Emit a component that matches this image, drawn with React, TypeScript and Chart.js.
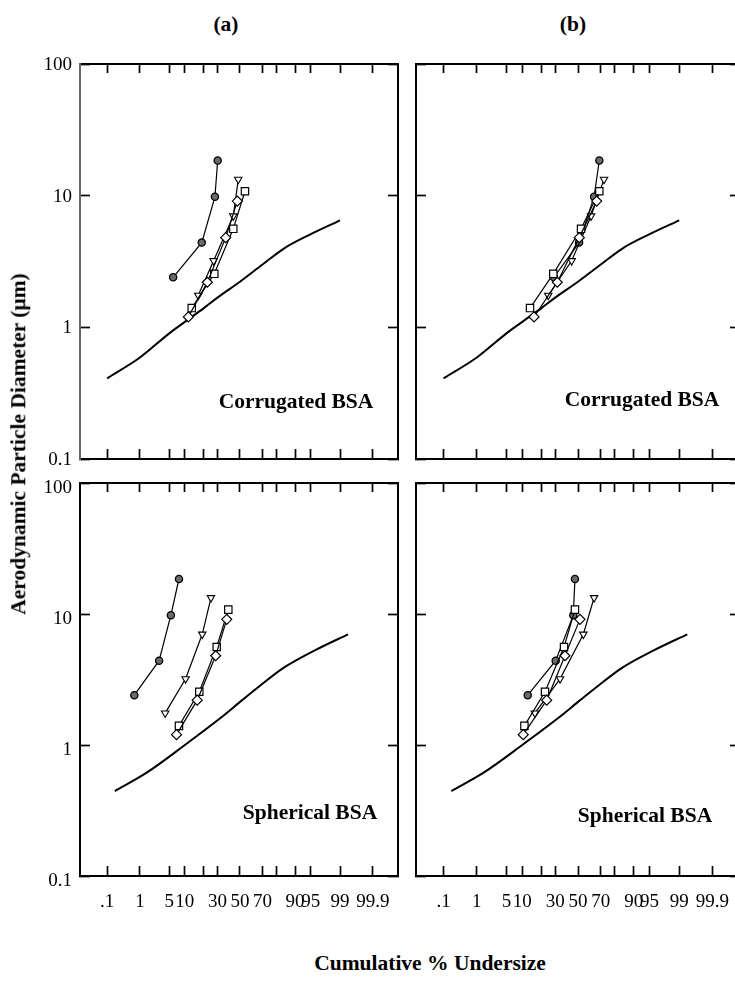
import React, { useEffect, useRef } from 'react';
import { Chart, registerables } from 'chart.js';
Chart.register(...registerables);

// ---------- data ----------
const xTickPercents = [0.1, 1, 5, 10, 20, 30, 50, 70, 80, 90, 95, 99, 99.9];
const xTickLabels = ['.1', '1', '5', '10', '', '30', '50', '70', '', '90', '95', '99', '99.9'];
const yTickValues = [0.1, 1, 10, 100];
const yTickLabels = ['0.1', '1', '10', '100'];

// aerodynamic diameters (µm) of each marker series
const circleDiameters = [2.4, 4.4, 9.8, 18.5];
const triangleDiameters = [1.75, 3.2, 7.0, 13.3];
const squareDiameters = [1.4, 2.55, 5.6, 10.8];
const diamondDiameters = [1.2, 2.2, 4.8, 9.1];

// cumulative % undersize, panel (a) corrugated
const aCorrCircle = [6.0, 18.7, 28.0, 30.2];
const aCorrTriangle = [16.6, 27.0, 43.8, 48.4];
const aCorrSquare = [13.1, 27.5, 43.8, 54.6];
const aCorrDiamond = [11.5, 22.4, 37.0, 47.5];

// panel (b) corrugated
const bCorrCircle = [29.0, 51.0, 64.4, 68.8];
const bCorrTriangle = [24.7, 44.2, 61.8, 72.5];
const bCorrSquare = [13.5, 28.5, 52.8, 68.8];
const bCorrDiamond = [15.6, 31.7, 51.2, 66.6];

// panel (a) spherical
const aSphCircle = [0.7, 3.0, 5.4, 7.8];
const aSphTriangle = [4.1, 10.3, 19.0, 25.0];
const aSphSquare = [7.8, 17.2, 29.4, 39.3];
const aSphDiamond = [7.0, 16.0, 28.6, 37.9];

// panel (b) spherical
const bSphCircle = [12.4, 30.4, 45.7, 47.2];
const bSphTriangle = [16.1, 34.0, 54.9, 64.4];
const bSphSquare = [10.9, 22.4, 37.4, 47.2];
const bSphDiamond = [10.4, 23.6, 38.2, 51.8];

// solid reference curves
const corrCurvePct = [0.1, 1, 5, 10, 20, 30, 50, 70, 85, 95, 99];
const corrCurveDia = [0.41, 0.59, 0.9, 1.1, 1.4, 1.68, 2.22, 3.0, 4.0, 5.1, 6.5];
const sphCurvePct = [0.18, 1.5, 10, 33, 52, 65, 84, 96, 99.4];
const sphCurveDia = [0.445, 0.615, 1.0, 1.62, 2.2, 2.7, 3.85, 5.3, 7.0];

// ---------- helpers ----------
function probit(pct: number): number {
  const p = pct / 100;
  const a = [-39.69683028665376, 220.9460984245205, -275.9285104469687, 138.357751867269, -30.66479806614716, 2.506628277459239];
  const b = [-54.47609879822406, 161.5858368580409, -155.6989798598866, 66.80131188771972, -13.28068155288572];
  const c = [-0.007784894002430293, -0.3223964580411365, -2.400758277161838, -2.549732539343734, 4.374645959783400, 2.938163982698783];
  const d = [0.007784695709041462, 0.3224671290700398, 2.445134137142996, 3.754408661907416];
  const pl = 0.02425;
  if (p < pl) {
    const q = Math.sqrt(-2 * Math.log(p));
    return (((((c[0] * q + c[1]) * q + c[2]) * q + c[3]) * q + c[4]) * q + c[5]) / ((((d[0] * q + d[1]) * q + d[2]) * q + d[3]) * q + 1);
  }
  if (p <= 1 - pl) {
    const q = p - 0.5;
    const r = q * q;
    return (((((a[0] * r + a[1]) * r + a[2]) * r + a[3]) * r + a[4]) * r + a[5]) * q / (((((b[0] * r + b[1]) * r + b[2]) * r + b[3]) * r + b[4]) * r + 1);
  }
  const q = Math.sqrt(-2 * Math.log(1 - p));
  return -(((((c[0] * q + c[1]) * q + c[2]) * q + c[3]) * q + c[4]) * q + c[5]) / ((((d[0] * q + d[1]) * q + d[2]) * q + d[3]) * q + 1);
}

const SERIF = "'Liberation Serif', 'Times New Roman', serif";

type Series = { circle: number[]; triangle: number[]; square: number[]; diamond: number[] };

type PanelProps = {
  left: number; top: number; right: number; bottom: number;
  xMin: number; xMax: number;
  showX: boolean; showY: boolean;
  series: Series;
  curvePct: number[]; curveDia: number[];
  leftBorder: string;
  yLabelOffset: number;
};

const zeroPad = (s: any) => { s.paddingLeft = 0; s.paddingRight = 0; s.paddingTop = 0; s.paddingBottom = 0; };

function Panel(p: PanelProps) {
  const ref = useRef<HTMLCanvasElement>(null);
  const yW = p.showY ? 80 : 10;
  const xH = p.showX ? 60 : 10;
  const W = yW + (p.right - p.left) + 10;
  const H = 10 + (p.bottom - p.top) + xH;

  useEffect(() => {
    const canvas = ref.current;
    if (!canvas) return;
    const pts = (pcts: number[], dias: number[]) => pcts.map((v, i) => ({ x: probit(v), y: dias[i] }));
    const base = { showLine: true, borderColor: '#000', borderWidth: 1.2, tension: 0, pointBorderColor: '#000' };
    const tickGrid = { display: true, drawOnChartArea: false, drawTicks: true, tickLength: -10, tickWidth: 1.7, color: '#000' };
    const xBuild = (s: any) => { s.ticks = xTickPercents.map((v) => ({ value: probit(v) })); };
    const yBuild = (s: any) => { s.ticks = yTickValues.map((v) => ({ value: v })); };

    const chart = new Chart(canvas, {
      type: 'scatter',
      data: {
        datasets: [
          { ...base, data: pts(p.series.diamond, diamondDiameters), pointStyle: 'rectRot', pointRadius: 5, pointBackgroundColor: '#fff', pointBorderWidth: 1.2 },
          { ...base, data: pts(p.series.square, squareDiameters), pointStyle: 'rect', pointRadius: 5.2, pointBackgroundColor: '#fff', pointBorderWidth: 1.2 },
          { ...base, data: pts(p.series.triangle, triangleDiameters), pointStyle: 'triangle', pointRotation: 180, pointRadius: 4.3, pointBackgroundColor: '#fff', pointBorderWidth: 1.1 },
          { ...base, data: pts(p.series.circle, circleDiameters), pointStyle: 'circle', pointRadius: 3.6, pointBackgroundColor: '#6a6a6a', pointBorderWidth: 1.3 },
          { ...base, data: pts(p.curvePct, p.curveDia), borderWidth: 2, pointRadius: 0, cubicInterpolationMode: 'monotone' },
        ] as any,
      },
      options: {
        responsive: false,
        animation: false,
        devicePixelRatio: 1,
        events: [],
        layout: { padding: 0 },
        plugins: { legend: { display: false }, tooltip: { enabled: false } },
        scales: {
          x: {
            type: 'linear',
            position: 'bottom',
            min: p.xMin,
            max: p.xMax,
            grid: tickGrid,
            border: { display: true, width: 2, color: '#000' },
            ticks: {
              display: p.showX,
              autoSkip: false,
              maxRotation: 0,
              minRotation: 0,
              padding: 25,
              color: '#000',
              font: { family: SERIF, size: 19 },
              callback: (_v: any, i: number) => xTickLabels[i] ?? '',
            },
            afterBuildTicks: xBuild,
            afterFit: (s: any) => { s.height = xH; zeroPad(s); },
          },
          x2: {
            type: 'linear',
            position: 'top',
            min: p.xMin,
            max: p.xMax,
            grid: { ...tickGrid, tickLength: -9 },
            border: { display: true, width: 2, color: '#000' },
            ticks: { display: false },
            afterBuildTicks: xBuild,
            afterFit: (s: any) => { s.height = 10; zeroPad(s); },
          },
          y: {
            type: 'logarithmic',
            position: 'left',
            min: 0.1,
            max: 100,
            grid: tickGrid,
            border: { display: true, width: 2, color: p.leftBorder },
            ticks: {
              display: p.showY,
              autoSkip: false,
              padding: 18,
              labelOffset: p.yLabelOffset,
              color: '#000',
              font: { family: SERIF, size: 19 },
              callback: (_v: any, i: number) => yTickLabels[i] ?? '',
            },
            afterBuildTicks: yBuild,
            afterFit: (s: any) => { s.width = yW; zeroPad(s); },
          },
          y2: {
            type: 'logarithmic',
            position: 'right',
            min: 0.1,
            max: 100,
            grid: tickGrid,
            border: { display: true, width: 2, color: '#000' },
            ticks: { display: false },
            afterBuildTicks: yBuild,
            afterFit: (s: any) => { s.width = 10; zeroPad(s); },
          },
        } as any,
      },
    });
    return () => chart.destroy();
  }, []);

  return (
    <canvas
      ref={ref}
      width={W}
      height={H}
      style={{ position: 'absolute', left: p.left - yW, top: p.top - 10, width: W, height: H }}
    />
  );
}

const txt = (extra: React.CSSProperties): React.CSSProperties => ({
  position: 'absolute',
  fontFamily: SERIF,
  fontWeight: 'bold',
  fontSize: 21.5,
  lineHeight: 1,
  whiteSpace: 'nowrap',
  color: '#000',
  transform: 'translate(-50%, -50%)',
  ...extra,
});

export default function App() {
  const aX = { xMin: -3.72, xMax: 3.674 };
  const bX = { xMin: -3.724, xMax: 3.724 };
  return (
    <div style={{ position: 'absolute', left: 0, top: 0, width: 735, height: 996, overflow: 'hidden', background: '#fff' }}>
      <Panel left={80} top={64} right={398} bottom={459} {...aX} showX={false} showY={true} yLabelOffset={1}
        series={{ circle: aCorrCircle, triangle: aCorrTriangle, square: aCorrSquare, diamond: aCorrDiamond }}
        curvePct={corrCurvePct} curveDia={corrCurveDia} leftBorder="#666" />
      <Panel left={416} top={64} right={740} bottom={459} {...bX} showX={false} showY={false} yLabelOffset={0}
        series={{ circle: bCorrCircle, triangle: bCorrTriangle, square: bCorrSquare, diamond: bCorrDiamond }}
        curvePct={corrCurvePct} curveDia={corrCurveDia} leftBorder="#000" />
      <Panel left={80} top={483} right={398} bottom={876} {...aX} showX={true} showY={true} yLabelOffset={5}
        series={{ circle: aSphCircle, triangle: aSphTriangle, square: aSphSquare, diamond: aSphDiamond }}
        curvePct={sphCurvePct} curveDia={sphCurveDia} leftBorder="#000" />
      <Panel left={416} top={483} right={740} bottom={876} {...bX} showX={true} showY={false} yLabelOffset={0}
        series={{ circle: bSphCircle, triangle: bSphTriangle, square: bSphSquare, diamond: bSphDiamond }}
        curvePct={sphCurvePct} curveDia={sphCurveDia} leftBorder="#000" />

      <div style={txt({ left: 226, top: 25 })}>(a)</div>
      <div style={txt({ left: 573, top: 25 })}>(b)</div>
      <div style={txt({ left: 296, top: 402 })}>Corrugated BSA</div>
      <div style={txt({ left: 642, top: 400 })}>Corrugated BSA</div>
      <div style={txt({ left: 310, top: 813 })}>Spherical BSA</div>
      <div style={txt({ left: 645, top: 816 })}>Spherical BSA</div>
      <div style={txt({ left: 19, top: 444, transform: 'translate(-50%, -50%) rotate(-90deg)' })}>Aerodynamic Particle Diameter (μm)</div>
      <div style={txt({ left: 430, top: 964 })}>Cumulative % Undersize</div>
    </div>
  );
}
